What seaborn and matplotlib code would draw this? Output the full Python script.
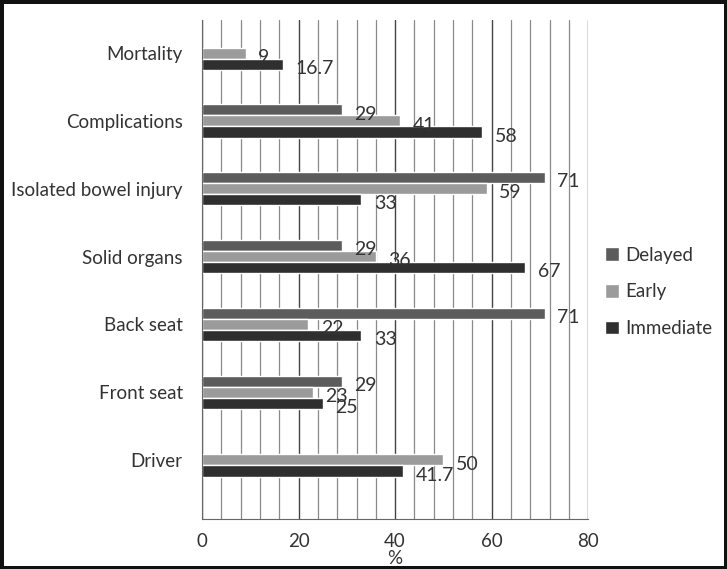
import pandas as pd
import numpy as np
import matplotlib
matplotlib.use('Agg')
import matplotlib.pyplot as plt
from matplotlib.ticker import MultipleLocator
import seaborn as sns

categories = ['Mortality', 'Complications', 'Isolated bowel injury', 'Solid organs',
              'Back seat', 'Front seat', 'Driver']
delayed = [np.nan, 29, 71, 29, 71, 29, np.nan]
early = [9, 41, 59, 36, 22, 23, 50]
immediate = [16.7, 58, 33, 67, 33, 25, 41.7]
series = ['Delayed', 'Early', 'Immediate']

rows = []
for name, vals in zip(series, [delayed, early, immediate]):
    for cat, v in zip(categories, vals):
        rows.append({'category': cat, 'series': name, 'value': v})
df = pd.DataFrame(rows)

sns.set_style('white')
plt.rcParams['font.family'] = ['Lato', 'DejaVu Sans']

fig = plt.figure(figsize=(7.27, 5.69), dpi=100)
fig.patch.set_edgecolor('#111111')
fig.patch.set_linewidth(5)
ax = fig.add_axes([0.278, 0.088, 0.531, 0.877])

colors = {'Delayed': '#5c5c5c', 'Early': '#9b9b9b', 'Immediate': '#2f2f2f'}
sns.barplot(data=df, x='value', y='category', hue='series', order=categories,
            hue_order=series, palette=colors, width=0.49, orient='h',
            ax=ax, saturation=1, legend=True)

for cont in ax.containers:
    texts = ax.bar_label(cont, fmt='%g', padding=9, fontsize=14, color='#333333')
    for t in texts:
        t.xyann = (9, -3)

ax.set_xlim(0, 80)
ax.set_ylim(6.87, -0.49)
ax.xaxis.set_major_locator(MultipleLocator(20))
ax.xaxis.set_minor_locator(MultipleLocator(4))
ax.grid(axis='x', which='major', color='#444444', linewidth=1)
ax.grid(axis='x', which='minor', color='#8a8a8a', linewidth=0.9)
ax.set_axisbelow(True)
ax.tick_params(axis='x', which='both', direction='out', length=4, color='#555555',
               labelsize=13.5, labelcolor='#333333', pad=6)
ax.tick_params(axis='y', length=0, labelsize=13.5, labelcolor='#333333', pad=14)
for s in ['top', 'right']:
    ax.spines[s].set_visible(False)
ax.spines['left'].set_color('#666666')
ax.spines['bottom'].set_color('#666666')
ax.set_ylabel('')
ax.set_xlabel('%', fontsize=13.5, color='#333333', labelpad=0)

handles, labels = ax.get_legend_handles_labels()
ax.legend(handles, labels, loc='center left', bbox_to_anchor=(1.025, 0.455),
          frameon=False, fontsize=13.5, handlelength=0.75, handleheight=0.75,
          handletextpad=0.3, labelspacing=1.05, labelcolor='#333333',
          borderaxespad=0)

fig.savefig('out.png', dpi=100)
